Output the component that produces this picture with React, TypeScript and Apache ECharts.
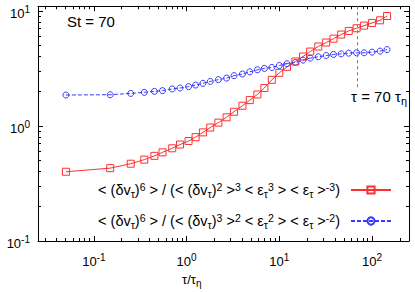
import React, { useEffect, useRef } from 'react';
import * as echarts from 'echarts';

// ---- data ----
const tau = [0.05, 0.15, 0.25, 0.35, 0.45, 0.55, 0.7, 0.85, 1.05, 1.25, 1.5, 1.8, 2.2, 2.7, 3.25, 4.0, 4.8, 5.8, 6.9, 8.3, 10, 12.1, 14.9, 18, 21.5, 26.3, 32, 38.4, 46.4, 56, 68, 82, 100, 122, 145];
const ratioA = [0.40, 0.43, 0.47, 0.51, 0.55, 0.59, 0.64, 0.69, 0.74, 0.80, 0.88, 0.97, 1.07, 1.19, 1.33, 1.50, 1.68, 1.88, 2.14, 2.52, 2.90, 3.27, 3.64, 4.02, 4.44, 4.91, 5.32, 5.75, 6.24, 6.71, 7.08, 7.46, 7.87, 8.3, 9.05];
const ratioB = [1.86, 1.87, 1.92, 1.96, 2.0, 2.03, 2.10, 2.14, 2.20, 2.27, 2.35, 2.44, 2.53, 2.61, 2.74, 2.83, 2.96, 3.08, 3.17, 3.23, 3.36, 3.48, 3.57, 3.74, 3.89, 4.0, 4.10, 4.19, 4.24, 4.3, 4.33, 4.33, 4.39, 4.48, 4.62];

const xRange = [0.025, 250];
const yRange = [0.1, 11];
const markTau = 70;
const markTop = 2.15;

const nameA = '<(δvτ)^6>/(<(δvτ)^2>^3 <ετ^3> <ετ>^-3)';
const nameB = '<(δvτ)^6>/(<(δvτ)^3>^2 <ετ^2> <ετ>^-2)';
const legendRich: Record<string, string> = {
  [nameA]: '< (δv{sub|τ}){sup|6} > / (< (δv{sub|τ}){sup|2} >{sup|3} < ε{sub|τ}{sup|3} > < ε{sub|τ} >{sup|-3})',
  [nameB]: '< (δv{sub|τ}){sup|6} > / (< (δv{sub|τ}){sup|3} >{sup|2} < ε{sub|τ}{sup|2} > < ε{sub|τ} >{sup|-2})',
};

const minorMultipliers = [2, 3, 4, 5, 6, 7, 8, 9];
const decades = [0.01, 0.1, 1, 10, 100];

const FONT = "'Liberation Sans', Arial, Helvetica, sans-serif";
const RED = '#ff3030';
const BLUE = '#3838ff';

function minorTicks(lo: number, hi: number) {
  const out: number[] = [];
  decades.forEach((d) => minorMultipliers.forEach((m) => {
    const v = d * m;
    if (v > lo * 1.0001 && v < hi * 0.9999) out.push(v);
  }));
  return out;
}

function powLabel(v: number) {
  const l = Math.log10(v);
  const r = Math.round(l);
  if (Math.abs(l - r) > 1e-6) return '';
  return '10{sup|' + r + '}';
}

const supStyle = { fontSize: 10, lineHeight: 10, verticalAlign: 'top', fontFamily: FONT, color: '#000' };
const lgSup = { fontSize: 10.5, lineHeight: 10, verticalAlign: 'top', fontFamily: FONT, color: '#000' };
const lgSub = { fontSize: 10.5, lineHeight: 10, verticalAlign: 'bottom', fontFamily: FONT, color: '#000' };

export default function App() {
  const ref = useRef<HTMLDivElement>(null);
  useEffect(() => {
    if (!ref.current) return;
    const chart = echarts.init(ref.current, undefined, { renderer: 'svg' });
    const xMinor = minorTicks(xRange[0], xRange[1]);
    const yMinor = minorTicks(yRange[0], yRange[1]);
    const snap = (v: number) => Math.round(v - 0.5) + 0.5;

    const axisCommon = {
      axisLine: { show: true, onZero: false, lineStyle: { color: '#000', width: 1 } },
      axisTick: { show: true, inside: true, length: 5, lineStyle: { color: '#000', width: 1 } },
      splitLine: { show: false },
      minorTick: { show: false },
    };

    const option: any = {
      animation: false,
      backgroundColor: '#fff',
      grid: { left: 38, right: 6, top: 5, bottom: 51, containLabel: false },
      xAxis: [
        {
          type: 'log', logBase: 10, min: xRange[0], max: xRange[1], position: 'bottom',
          ...axisCommon,
          axisLabel: {
            formatter: powLabel, fontSize: 13, lineHeight: 18, fontFamily: FONT, color: '#000', margin: 11,
            showMinLabel: true, showMaxLabel: true,
            rich: { sup: supStyle },
          },
        },
        {
          type: 'log', logBase: 10, min: xRange[0], max: xRange[1], position: 'top',
          ...axisCommon, axisLabel: { show: false },
        },
      ],
      yAxis: [
        {
          type: 'log', logBase: 10, min: yRange[0], max: yRange[1], position: 'left',
          ...axisCommon,
          axisLabel: {
            formatter: powLabel, fontSize: 13, lineHeight: 18, fontFamily: FONT, color: '#000', margin: 8,
            padding: [4, 0, 0, 0],
            rich: { sup: supStyle },
          },
        },
        {
          type: 'log', logBase: 10, min: yRange[0], max: yRange[1], position: 'right',
          ...axisCommon, axisLabel: { show: false },
        },
      ],
      legend: {
        orient: 'vertical', right: 23, top: 181, align: 'right', padding: 0,
        itemWidth: 40, itemHeight: 9, itemGap: 13, selectedMode: false,
        data: [nameA, nameB],
        formatter: (n: string) => legendRich[n],
        textStyle: {
          fontFamily: FONT, fontSize: 14.5, lineHeight: 18, color: '#000', padding: [0, 6, 0, 0],
          rich: { sup: lgSup, sub: lgSub },
        },
      },
      graphic: [
        { type: 'text', left: 67, top: 14, style: { text: 'St = 70', font: `15px ${FONT}`, fill: '#000' } },
        {
          type: 'text', right: 8, top: 86,
          style: {
            text: 'τ = 70 τ{sub|η}', fontFamily: FONT, fontSize: 15, lineHeight: 20, fill: '#000',
            rich: { sub: { fontSize: 11, lineHeight: 11, verticalAlign: 'bottom', fontFamily: FONT } },
          },
        },
        {
          type: 'text', left: 182, top: 270,
          style: {
            text: 'τ/τ{sub|η}', fontFamily: FONT, fontSize: 13, lineHeight: 18, fill: '#000',
            rich: { sub: { fontSize: 10, lineHeight: 10, verticalAlign: 'bottom', fontFamily: FONT } },
          },
        },
      ],
      series: [
        {
          name: nameA, type: 'line', xAxisIndex: 0, yAxisIndex: 0,
          data: tau.map((t, i) => [t, ratioA[i]]),
          symbol: 'rect', symbolSize: 7, showAllSymbol: true,
          lineStyle: { color: RED, width: 1 },
          itemStyle: { color: 'rgba(0,0,0,0)', borderColor: RED, borderWidth: 1 },
          markLine: {
            silent: true, symbol: ['none', 'none'], label: { show: false },
            lineStyle: { color: '#777', type: [3, 3], width: 1 },
            data: [[{ coord: [markTau, yRange[1]] }, { coord: [markTau, markTop] }]],
          },
        },
        {
          name: nameB, type: 'line', xAxisIndex: 0, yAxisIndex: 0,
          data: tau.map((t, i) => [t, ratioB[i]]),
          symbol: 'circle', symbolSize: 6, showAllSymbol: true,
          lineStyle: { color: BLUE, width: 1, type: [4, 2] },
          itemStyle: { color: 'rgba(0,0,0,0)', borderColor: BLUE, borderWidth: 1 },
        },
        {
          type: 'custom', silent: true, clip: false, xAxisIndex: 0, yAxisIndex: 0,
          data: xMinor.map((v) => [v, yRange[0]]),
          renderItem: (params: any, api: any) => {
            const cs = params.coordSys;
            const x = snap(api.coord([api.value(0), yRange[0]])[0]);
            const yb = cs.y + cs.height;
            return {
              type: 'group', children: [
                { type: 'line', shape: { x1: x, y1: yb, x2: x, y2: yb - 3 }, style: { stroke: '#000', lineWidth: 1 } },
                { type: 'line', shape: { x1: x, y1: cs.y, x2: x, y2: cs.y + 3 }, style: { stroke: '#000', lineWidth: 1 } },
              ],
            };
          },
        },
        {
          type: 'custom', silent: true, clip: false, xAxisIndex: 0, yAxisIndex: 0,
          data: yMinor.map((v) => [xRange[0], v]),
          renderItem: (params: any, api: any) => {
            const cs = params.coordSys;
            const y = snap(api.coord([xRange[0], api.value(1)])[1]);
            const xr = cs.x + cs.width;
            return {
              type: 'group', children: [
                { type: 'line', shape: { x1: cs.x, y1: y, x2: cs.x + 3, y2: y }, style: { stroke: '#000', lineWidth: 1 } },
                { type: 'line', shape: { x1: xr, y1: y, x2: xr - 3, y2: y }, style: { stroke: '#000', lineWidth: 1 } },
              ],
            };
          },
        },
      ],
    };
    chart.setOption(option);
    return () => chart.dispose();
  }, []);
  return <div ref={ref} style={{ position: 'fixed', left: 0, top: 0, width: 415, height: 292 }} />;
}
